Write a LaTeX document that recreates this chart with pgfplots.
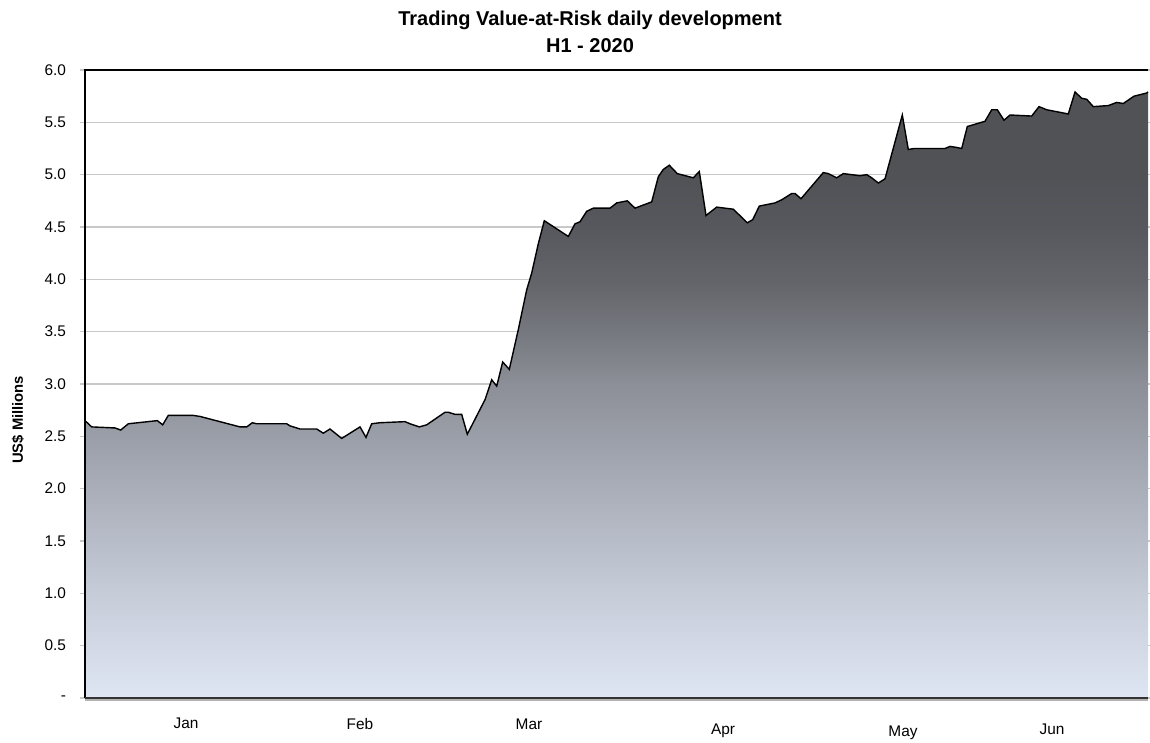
\documentclass[border=0pt]{standalone}
\usepackage{pgfplots}
\pgfplotsset{compat=1.18}
\usepackage{pgfplotstable}
\usepackage{fontspec}
\setmainfont{Liberation Sans}
\definecolor{gridc}{HTML}{C8C8C8}
\definecolor{s0}{HTML}{DFE6F3}
\definecolor{s1}{HTML}{C6CCD8}
\definecolor{s2}{HTML}{A9AEB9}
\definecolor{s3}{HTML}{8C8F97}
\definecolor{s35}{HTML}{76787F}
\definecolor{s4}{HTML}{626469}
\definecolor{s45}{HTML}{56585D}
\definecolor{s5}{HTML}{505256}
\pgfdeclareverticalshading{varshade}{100bp}{%
 color(0bp)=(s0); color(25bp)=(s0); color(33.6bp)=(s1); color(42.3bp)=(s2);
 color(50.9bp)=(s3); color(55.2bp)=(s35); color(59.5bp)=(s4); color(63.8bp)=(s45);
 color(68.2bp)=(s5); color(75bp)=(s5); color(100bp)=(s5)}
\pgfplotstableread{
x v
85 2.65
91.7 2.59
115 2.58
120.7 2.56
128.3 2.62
157.3 2.65
162.7 2.61
168.3 2.70
193.3 2.70
200 2.69
240 2.59
246.7 2.59
252.3 2.63
256.7 2.62
286.7 2.62
290 2.60
300 2.57
316.7 2.57
323.3 2.53
330 2.57
341.7 2.48
360 2.59
366 2.49
371.7 2.62
380 2.63
405 2.64
410 2.62
419.3 2.59
426.7 2.61
445 2.73
448.3 2.73
455 2.71
461.7 2.71
467.3 2.52
485 2.85
491.7 3.04
496.7 2.98
502.7 3.21
509.3 3.14
518.3 3.52
526.7 3.90
531.7 4.06
538.3 4.34
544.3 4.56
568.3 4.41
575 4.53
580 4.55
586.7 4.65
593.3 4.68
610 4.68
616.7 4.73
627.3 4.75
635 4.68
651.7 4.74
658.3 4.98
663.3 5.05
669.3 5.09
677.3 5.01
693.3 4.97
699.3 5.03
706 4.61
716.7 4.69
733.3 4.67
747.3 4.54
752.7 4.57
759.3 4.70
775 4.73
781.7 4.76
791.7 4.82
795 4.82
801 4.77
823.3 5.02
828.3 5.01
836.7 4.97
843.3 5.01
860 4.99
866.7 5.00
871.7 4.97
878.3 4.92
885 4.96
902.3 5.57
908.3 5.24
914 5.25
945 5.25
950 5.27
956.7 5.26
961.7 5.25
967.3 5.46
985 5.51
991.7 5.62
997.3 5.62
1004 5.52
1010 5.57
1031.7 5.56
1039 5.65
1046.7 5.62
1068.3 5.58
1075 5.79
1081.7 5.73
1086.7 5.72
1093.3 5.65
1108.3 5.66
1116.7 5.69
1123.3 5.68
1134 5.75
1146.7 5.78
1148 5.79
}\vardata
\begin{document}
\begin{tikzpicture}
\begin{axis}[
 name=ax,
 scale only axis=true,
 width=531.5pt, height=314pt,
 xmin=85, xmax=1148, ymin=0, ymax=6,
 xtick=\empty,
 ytick={0,0.5,...,6},
 yticklabels={-,0.5,1.0,1.5,2.0,2.5,3.0,3.5,4.0,4.5,5.0,5.5,6.0},
 ymajorgrids=true,
 grid style={gridc, line width=0.75pt},
 major tick length=2.5pt,
 tick align=outside,
 ytick style={gridc, line width=0.75pt},
 axis line style={draw=none},
 tick label style={font=\fontsize{7.7}{9}\selectfont},
 yticklabel style={xshift=-3.5pt},
 /pgf/number format/assume math mode=true,
 clip=false,
]
\addplot[draw=none, shading=varshade] table[x=x,y=v]{\vardata} \closedcycle;
\addplot[black, line width=0.7pt] table[x=x,y=v]{\vardata};
\draw[black, line width=0.75pt] (rel axis cs:0,0) -- (rel axis cs:0,1) -- (rel axis cs:1,1);
\draw[gray!60, line width=1pt] ([yshift=-1.2pt]rel axis cs:0,0) -- ([yshift=-1.2pt]rel axis cs:1,0);
\draw[black!80, line width=1.1pt] (rel axis cs:0,0) -- (rel axis cs:1,0);
\node[font=\fontsize{7.7}{9}\selectfont, anchor=base] at ([yshift=-15.5pt]axis cs:186,0) {Jan};
\node[font=\fontsize{7.7}{9}\selectfont, anchor=base] at ([yshift=-16pt]axis cs:360,0) {Feb};
\node[font=\fontsize{7.7}{9}\selectfont, anchor=base] at ([yshift=-16pt]axis cs:529,0) {Mar};
\node[font=\fontsize{7.7}{9}\selectfont, anchor=base] at ([yshift=-18pt]axis cs:723,0) {Apr};
\node[font=\fontsize{7.7}{9}\selectfont, anchor=base] at ([yshift=-19pt]axis cs:903,0) {May};
\node[font=\fontsize{7.7}{9}\selectfont, anchor=base] at ([yshift=-18pt]axis cs:1052,0) {Jun};
\node[font=\bfseries\fontsize{7.4}{8}\selectfont, rotate=90] at ([xshift=-33.5pt]rel axis cs:0,0.443) {US\$ Millions};
\node[font=\bfseries\fontsize{10}{13.5}\selectfont, align=center] at ([xshift=252.5pt, yshift=19.25pt]rel axis cs:0,1) {Trading Value-at-Risk daily development\\H1 - 2020};
\end{axis}
\pgfresetboundingbox
\path (ax.south west) ++(-42.5pt,-22.5pt) rectangle ++(575pt,371.5pt);
\end{tikzpicture}
\end{document}
